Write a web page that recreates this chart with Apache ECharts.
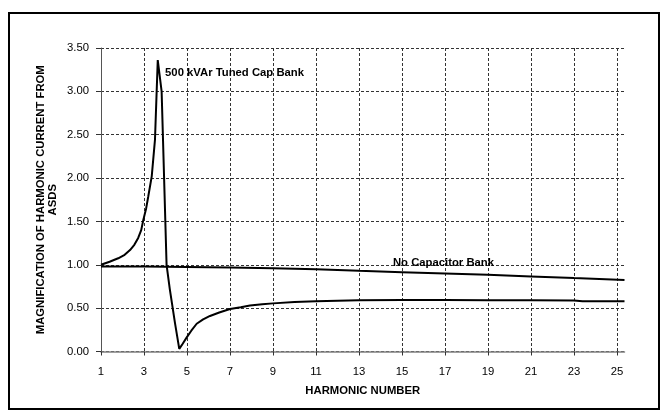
<!DOCTYPE html>
<html>
<head>
<meta charset="utf-8">
<script src="https://cdn.jsdelivr.net/npm/echarts@6/dist/echarts.min.js"></script>
<style>
  html, body { margin: 0; padding: 0; background: #fff; }
  #chart { width: 666px; height: 416px; }
</style>
</head>
<body>
<div id="chart"></div>
<script>
// ---- data ----
const xTickValues = [1, 3, 5, 7, 9, 11, 13, 15, 17, 19, 21, 23, 25];
const yTickLabels = ['0.00', '0.50', '1.00', '1.50', '2.00', '2.50', '3.00', '3.50'];

const tunedHarmonic = [1, 1.4, 1.8, 2.1, 2.35, 2.55, 2.73, 2.87, 2.97, 3.1, 3.2, 3.36, 3.51, 3.64, 3.82, 4.05, 4.2, 4.44, 4.64, 4.8, 4.98, 5.2, 5.45, 5.75, 6.07, 6.5, 7.0, 7.5, 7.93, 8.5, 9.0, 10, 11, 12, 13, 15, 17, 19, 21, 23, 23.4, 25.35];
const tunedMagnification = [1.00, 1.035, 1.075, 1.115, 1.17, 1.23, 1.31, 1.4, 1.52, 1.65, 1.79, 2.02, 2.44, 3.36, 3.00, 1.00, 0.72, 0.33, 0.03, 0.09, 0.16, 0.24, 0.32, 0.37, 0.41, 0.45, 0.49, 0.51, 0.53, 0.545, 0.555, 0.57, 0.58, 0.585, 0.59, 0.595, 0.595, 0.592, 0.59, 0.588, 0.58, 0.58];

const noCapHarmonic = [1, 3, 5, 7, 9, 11, 13, 15, 17, 19, 21, 23, 25.35];
const noCapMagnification = [0.98, 0.98, 0.975, 0.97, 0.96, 0.948, 0.93, 0.915, 0.90, 0.885, 0.866, 0.847, 0.825];

const seriesNames = ['500 kVAr Tuned Cap Bank', 'No Capacitor Bank'];
const xAxisTitle = 'HARMONIC NUMBER';
const yAxisTitle = 'MAGNIFICATION OF HARMONIC CURRENT FROM\nASDS';

// label anchor points (data coordinates)
const tunedLabelAt = [3.98, 3.21];
const noCapLabelAt = [14.58, 1.024];

const zip = (a, b) => a.map((v, i) => [v, b[i]]);
const FONT = '"Liberation Sans", Arial, sans-serif';
const FS = 11.3;

const chart = echarts.init(document.getElementById('chart'), null, { renderer: 'canvas' });

const gridLine = { show: true, lineStyle: { color: '#333', width: 1, type: [3, 2] } };

chart.setOption({
  backgroundColor: '#fff',
  animation: false,
  graphic: [{
    type: 'rect',
    shape: { x: 9, y: 13, width: 650, height: 396 },
    style: { fill: 'none', stroke: '#000', lineWidth: 2 },
    silent: true
  }],
  grid: { left: 101, right: 41.5, top: 48, bottom: 64.5 },
  xAxis: {
    type: 'value',
    min: 1,
    max: 25.35,
    interval: 2,
    name: xAxisTitle,
    nameLocation: 'middle',
    nameGap: 34,
    nameMoveOverlap: false,
    nameTextStyle: { fontFamily: FONT, fontSize: FS, fontWeight: 'bold', color: '#000' },
    axisLine: { show: true, lineStyle: { color: '#808080', width: 1.5 } },
    axisTick: { show: true, length: 4, customValues: xTickValues, lineStyle: { color: '#333' } },
    axisLabel: { customValues: xTickValues, margin: 15, fontFamily: FONT, fontSize: FS, color: '#000' },
    splitLine: Object.assign({ showMinLine: false }, gridLine)
  },
  yAxis: {
    type: 'value',
    min: 0,
    max: 3.5,
    interval: 0.5,
    name: yAxisTitle,
    nameLocation: 'middle',
    nameGap: 42,
    nameMoveOverlap: false,
    nameTextStyle: { fontFamily: FONT, fontSize: FS, fontWeight: 'bold', color: '#000', lineHeight: 12 },
    axisLine: { show: true, lineStyle: { color: '#555', width: 1 } },
    axisTick: { show: true, length: 5, lineStyle: { color: '#333' } },
    axisLabel: {
      margin: 12, fontFamily: FONT, fontSize: FS, color: '#000',
      formatter: (v) => yTickLabels[Math.round(v / 0.5)] ?? v.toFixed(2)
    },
    splitLine: gridLine
  },
  series: [
    {
      name: seriesNames[0],
      type: 'line',
      data: zip(tunedHarmonic, tunedMagnification),
      showSymbol: false,
      lineStyle: { color: '#000', width: 2 },
      z: 3,
      markPoint: {
        symbol: 'circle', symbolSize: 0,
        label: { show: true, position: 'right', distance: 0, formatter: seriesNames[0], fontFamily: FONT, fontSize: FS, fontWeight: 'bold', color: '#000' },
        data: [{ coord: tunedLabelAt }]
      }
    },
    {
      name: seriesNames[1],
      type: 'line',
      data: zip(noCapHarmonic, noCapMagnification),
      showSymbol: false,
      lineStyle: { color: '#000', width: 2 },
      z: 3,
      markPoint: {
        symbol: 'circle', symbolSize: 0,
        label: { show: true, position: 'right', distance: 0, formatter: seriesNames[1], fontFamily: FONT, fontSize: FS, fontWeight: 'bold', color: '#000' },
        data: [{ coord: noCapLabelAt }]
      }
    }
  ]
});
</script>
</body>
</html>
